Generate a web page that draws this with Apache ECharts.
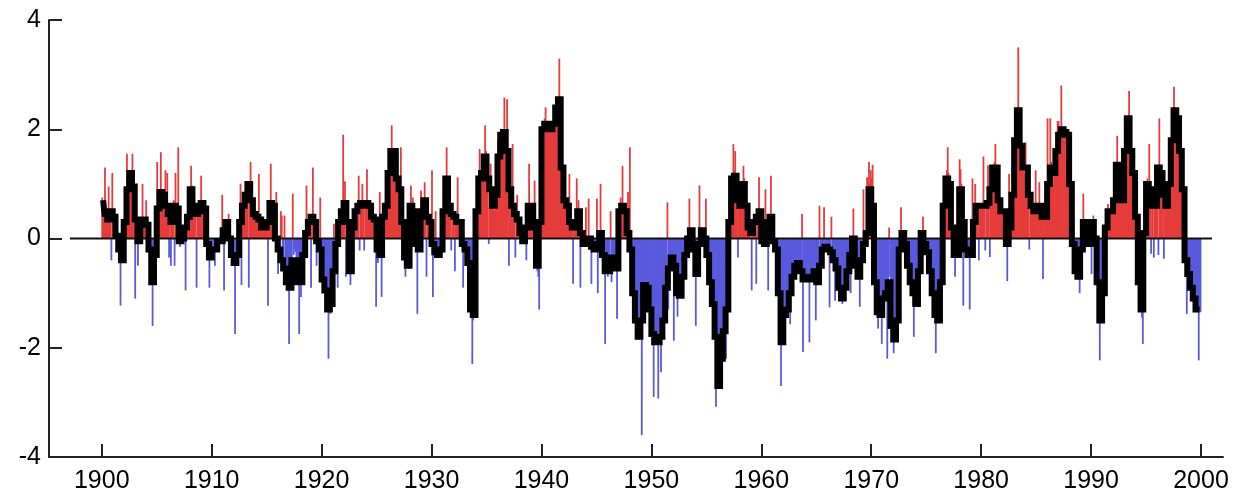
<!DOCTYPE html>
<html>
<head>
<meta charset="utf-8">
<script src="https://cdn.jsdelivr.net/npm/echarts@6/dist/echarts.min.js"></script>
<style>
html,body{margin:0;padding:0;background:#fff;}
#chart{width:1245px;height:495px;}
</style>
</head>
<body>
<div id="chart"></div>
<script>
// Monthly index values, Jan 1900 .. Dec 1999 (one row per year)
const pdoMonthly = [
0.75,0.7,0.55,1.3,0.45,0.4,0.3,0.95,0.45,0.55,-0.4,1.2,
0.5,0.3,0.35,0.1,-0.1,0.05,-0.15,-0.3,-1.23,-0.4,-0.45,-0.3,
0.1,0.3,0.55,1.55,0.9,1.0,1.2,1.25,1.1,1.55,0.9,0.7,
-1.1,0.4,0.3,-0.5,-0.05,0.1,0.3,0.35,1.0,0.3,0.35,0.3,
0.7,0.25,0.1,-0.1,-0.8,-0.4,-0.7,-1.6,-0.85,-0.5,-0.2,0.1,
1.4,0.5,0.6,0.85,1.58,0.8,0.85,0.8,0.75,1.25,0.6,1.2,
0.5,-0.35,0.4,-0.5,0.3,0.6,0.7,-0.5,1.2,0.6,0.5,1.67,
0.0,-0.15,-0.1,0.05,-0.1,0.2,0.15,-0.95,0.25,0.3,0.5,0.8,
0.95,1.33,0.97,0.7,0.6,0.55,0.5,-0.9,0.45,0.5,0.55,0.6,
1.15,0.7,0.65,0.7,0.5,0.3,0.0,-0.2,-0.3,-0.9,-0.4,-0.3,
-0.2,-0.25,-0.15,-0.5,-0.2,-0.1,-0.05,0.0,-0.1,0.05,-0.05,0.8,
0.1,-0.95,0.25,0.3,0.35,0.3,0.45,0.1,-0.1,-0.2,-0.35,-0.4,
-0.45,-1.75,-0.45,-0.4,-0.3,-0.1,0.2,1.0,-0.85,0.55,0.6,0.7,
0.75,0.85,0.9,0.95,-0.9,1.0,1.4,0.9,0.7,0.6,0.5,0.45,
0.45,0.4,0.45,1.18,0.35,0.3,0.2,0.25,0.15,0.2,0.2,0.25,
0.3,-1.23,0.5,0.6,1.37,0.65,0.7,0.6,0.5,0.3,0.85,-0.1,
-0.65,-0.2,-0.2,0.5,0.42,-0.4,-0.45,0.42,-0.55,-0.6,-0.8,-0.9,
-1.93,-0.9,-0.85,-0.8,0.82,-0.3,-0.2,-0.25,-0.4,-0.6,-0.8,-1.75,
-0.85,-1.07,-0.7,-0.5,-0.3,-0.1,0.0,0.97,0.15,0.25,0.3,0.35,
-0.9,0.4,1.3,0.4,0.3,0.2,-0.5,-0.05,-0.1,-0.2,0.75,-0.3,
-0.7,-0.8,-0.85,-0.9,-1.0,-0.95,-1.2,-2.2,-1.35,-1.38,-1.2,-1.0,
-0.8,0.27,-0.4,-0.2,0.0,-0.9,0.25,0.3,0.35,0.45,0.5,1.9,
0.65,1.05,-0.7,0.6,0.4,0.2,-0.6,-0.85,-0.5,0.2,0.4,0.5,
0.5,0.55,0.5,0.6,1.15,-0.22,0.6,0.65,1.0,0.6,-0.22,0.6,
0.6,1.27,0.65,0.6,0.55,0.6,0.45,0.4,0.35,0.4,0.35,-1.25,
-0.3,-0.45,-0.3,0.85,-0.2,-1.07,0.3,0.4,0.5,0.6,0.55,0.65,
1.0,1.25,1.4,1.5,2.07,1.65,1.6,1.55,1.5,1.2,1.1,1.05,
1.0,0.9,1.67,0.5,0.3,0.1,-0.1,-0.7,-0.3,-0.45,-0.55,-0.5,
0.2,0.97,0.6,0.75,0.5,0.2,0.0,-0.1,-1.38,-0.15,-0.1,-0.05,
0.88,0.5,0.6,0.7,1.03,0.7,-0.7,0.4,0.35,0.3,0.3,0.35,
1.25,-1.07,-0.1,-0.2,0.5,-0.3,-0.25,-0.3,-0.35,-0.3,-0.2,-0.1,
0.1,0.5,0.8,1.1,1.67,1.0,0.7,0.6,0.5,-0.22,0.45,0.45,
0.4,-0.6,0.4,0.35,1.12,0.3,0.3,0.3,0.25,0.1,-0.9,-0.1,
-0.2,-0.25,-0.3,-0.4,-0.5,-0.6,-1.0,-1.4,-2.3,-1.5,-1.3,-0.6,
0.3,0.6,0.9,1.1,1.64,1.1,1.15,1.2,1.3,1.45,2.07,1.6,
1.2,1.0,-0.1,0.9,1.37,0.9,0.7,0.6,0.5,0.55,0.7,1.0,
1.8,1.4,1.6,1.8,1.9,2.0,1.95,2.58,1.9,1.7,2.55,1.5,
-0.5,1.1,0.8,0.6,1.73,0.5,0.5,-0.35,0.45,0.8,0.4,0.3,
0.15,0.1,0.0,-0.05,-0.1,0.0,0.1,-0.4,0.5,0.6,1.37,0.65,
0.6,0.55,0.5,0.3,1.06,0.1,-0.3,-0.6,-0.7,-1.3,0.5,1.1,
1.6,2.0,2.1,2.2,2.4,2.1,2.05,2.0,2.0,1.95,2.0,2.05,
2.0,2.1,2.2,2.3,2.4,2.5,2.55,3.29,2.0,1.5,1.0,0.8,
0.8,0.7,0.6,0.6,0.55,0.6,1.18,0.3,0.25,0.2,-0.83,0.2,
0.3,0.3,1.1,0.5,0.7,0.45,-0.9,0.1,0.05,-0.05,-0.1,0.0,
0.57,-0.05,-0.1,0.73,0.0,-0.1,-0.83,-0.15,-0.2,-0.15,-0.2,-0.2,
0.73,-1.0,-0.1,0.1,1.0,0.1,-0.2,-0.3,-0.5,-1.93,-0.6,-0.65,
-0.7,-0.6,-0.5,0.5,-0.8,-0.35,-0.4,-0.45,-0.5,-0.55,-1.47,-0.6,
0.3,0.6,0.75,0.6,1.33,0.55,0.5,0.5,0.45,0.4,0.85,0.1,
1.67,-0.3,-0.5,-0.8,-1.0,-1.1,-1.3,-1.5,-1.6,-1.7,-1.85,-1.8,
-1.7,-3.6,-1.2,-0.85,-0.8,-0.85,-0.9,-1.0,-1.1,-1.3,-1.35,-1.3,
-1.7,-1.8,-2.9,-1.85,-1.9,-1.95,-1.9,-2.93,-1.85,-1.8,-2.45,-1.75,
-1.6,-1.4,-1.2,-1.0,-0.8,0.66,-1.3,-0.6,-0.5,-0.4,-0.35,-0.3,
-1.87,-0.5,-0.8,-1.0,-1.43,-1.05,-1.0,-1.05,-0.9,-0.7,-0.6,-0.5,
-0.4,-0.3,-0.2,-0.1,0.0,0.73,0.2,0.15,0.0,-0.2,-0.3,-0.4,
-1.6,-0.7,-0.5,-0.2,0.97,0.1,0.15,0.2,0.15,0.0,-0.1,0.73,
-0.2,-0.4,-0.6,-0.8,-0.9,-1.0,-1.2,-1.4,-1.6,-1.8,-3.08,-2.2,
-2.7,-2.6,-2.5,-2.4,-2.2,-2.0,-1.8,-2.0,-1.6,-2.2,-1.3,-1.0,
-0.5,0.2,0.6,0.9,1.1,1.73,1.25,1.6,1.1,0.9,-0.35,0.7,
0.6,0.6,0.7,1.0,1.33,1.1,0.8,0.6,0.4,0.25,0.2,0.15,
0.1,-0.95,0.15,0.2,0.3,0.35,-0.83,0.4,0.45,1.12,0.5,0.5,
0.0,-0.1,-0.1,-0.05,0.9,0.2,0.3,-0.95,0.4,0.35,1.15,0.4,
0.0,-0.1,-0.1,-0.15,-0.2,-0.3,-0.6,-1.0,-1.5,-2.7,-1.9,-1.8,
-1.5,-1.4,-1.35,-1.3,-1.3,-1.2,-1.1,-1.57,-0.9,-0.8,-0.7,-0.6,
-0.5,-0.5,-0.45,-0.45,-0.5,-0.55,-0.6,-0.7,0.45,-2.08,-0.75,-0.8,
-0.7,-0.75,-0.8,-0.8,-1.9,-0.75,-0.7,-0.7,-0.65,-0.6,-0.6,-1.5,
-0.8,-0.7,-0.6,0.6,-0.4,-0.25,-0.2,-0.15,0.57,-0.15,-0.1,-0.2,
-0.2,-0.2,-1.26,-0.25,0.4,-0.3,-0.35,-0.4,-1.14,-0.5,-0.6,-0.7,
-0.85,-0.95,-1.05,-1.1,-1.2,-1.1,-1.0,-0.9,-0.8,-0.7,-0.6,-0.5,
-0.4,-1.0,-0.2,-0.05,0.55,0.0,-0.3,-0.5,-0.65,-0.7,-0.75,-1.25,
-0.6,-0.3,-0.2,0.9,-0.1,0.0,0.1,1.12,0.2,1.4,1.0,1.25,
1.1,1.35,0.6,0.2,-0.5,-1.0,-1.3,-1.65,-1.4,-1.35,-1.4,-1.93,
-1.1,-1.0,-1.05,-1.0,-0.9,-2.2,-1.0,0.2,-0.7,-1.5,-1.7,-1.8,
-2.1,-1.85,-1.8,-1.8,-1.7,-1.2,-0.7,-0.2,0.57,0.1,0.15,0.1,
0.0,-0.1,-0.2,-0.3,-0.45,-0.6,-0.7,-0.8,-0.85,-0.95,-1.8,-1.1,
-1.2,-1.25,-1.2,-0.9,-0.6,-0.3,0.0,0.1,0.4,0.15,-0.1,-0.2,
-0.2,-0.25,-0.3,-0.5,-0.6,-0.7,-0.9,-1.0,-1.2,-1.3,-2.1,-1.45,
-1.55,-1.5,-1.4,-1.2,-0.6,0.0,0.5,0.9,1.0,1.1,1.25,1.67,
1.2,1.0,0.6,0.4,0.2,0.1,-0.1,-0.7,-0.3,-0.35,-0.3,0.0,
1.45,1.27,1.0,0.6,-1.23,0.2,-0.1,-0.2,-0.3,-0.35,-0.3,-1.3,
-0.3,-0.2,1.1,0.2,0.4,1.0,0.55,0.6,0.65,-0.4,0.6,0.65,
0.6,0.55,1.5,0.6,-0.22,0.6,0.65,1.34,0.7,-0.34,0.9,1.1,
1.2,1.35,1.4,1.73,1.3,1.1,0.8,0.7,0.6,0.5,0.55,0.5,
0.5,0.45,0.3,0.0,-0.78,-0.1,1.18,0.2,0.4,0.6,0.8,1.1,
1.5,1.9,2.1,2.37,3.5,2.3,2.0,1.8,1.6,1.4,1.3,1.2,
1.76,1.3,1.2,1.0,-0.2,0.8,0.7,0.6,0.6,0.55,0.5,1.25,
0.6,0.55,0.6,1.03,0.6,0.55,0.45,-0.74,0.4,0.4,0.35,0.45,
2.2,0.8,1.0,2.2,1.4,1.2,1.0,1.2,1.4,1.5,1.8,2.15,
2.15,1.9,1.95,2.8,2.0,1.95,2.0,1.9,1.95,1.9,1.85,1.7,
1.4,1.0,0.7,0.3,-0.1,-0.3,-0.5,-0.6,-0.7,-0.7,-0.75,-1.0,
-0.5,-0.2,0.1,0.82,0.3,0.3,0.1,-0.05,-0.1,-0.1,-0.05,0.0,
-0.65,0.3,0.42,0.2,0.0,-0.2,-0.5,-0.9,-1.3,-2.23,-1.55,-1.5,
-1.4,-1.0,-0.6,-0.2,0.1,0.3,0.63,0.5,0.5,0.45,0.5,0.55,
0.6,0.8,1.1,1.35,1.88,1.3,1.0,0.8,0.75,0.7,0.7,0.9,
1.3,1.7,2.0,2.2,2.1,2.7,1.9,1.6,1.5,1.4,1.2,1.0,
0.8,1.2,0.4,-0.3,-0.6,-0.9,-1.2,-1.45,-1.93,-1.3,-0.5,0.4,
0.9,1.1,1.0,1.73,0.9,-0.28,0.8,0.6,-0.35,0.55,0.6,0.7,
1.2,-0.3,2.2,1.3,1.2,1.1,0.9,-0.37,0.8,0.7,0.6,0.8,
0.9,1.0,1.3,1.6,1.9,2.2,2.78,2.4,2.3,2.2,2.3,2.1,
1.9,1.6,1.5,1.2,0.8,0.2,-0.3,-0.5,-1.38,-0.6,-0.7,-0.75,
-0.8,-0.9,-0.95,-1.0,-1.1,-1.15,-1.2,-1.3,-1.25,-2.23,-1.3,-1.35
];

// Smoothed index (black line), quarterly, 1900 Q1 .. 1999 Q4
const pdoSmooth = [
0.7,0.45,0.35,0.5, 0.4,0.05,-0.2,-0.4, 0.3,0.9,1.2,0.95, 0.35,-0.05,0.3,0.35, 0.25,-0.2,-0.8,-0.3,
0.55,0.85,0.8,0.6, 0.45,0.3,0.6,0.55, -0.05,0.0,0.2,0.4, 0.9,0.6,0.45,0.5, 0.65,0.55,-0.1,-0.35,
-0.2,-0.2,-0.05,-0.05, 0.15,0.3,0.0,-0.3, -0.45,-0.3,0.3,0.6, 0.8,1.0,0.7,0.45, 0.4,0.35,0.2,0.2,
0.3,0.65,0.6,0.0, -0.2,-0.4,-0.55,-0.8, -0.9,-0.4,-0.4,-0.8, -0.8,-0.3,0.1,0.3, 0.4,0.3,-0.05,-0.2,
-0.75,-0.95,-1.3,-1.2, -0.6,-0.1,0.3,0.5, 0.65,0.3,-0.6,0.2, 0.5,0.6,0.65,0.6, 0.65,0.6,0.4,0.35,
-0.2,-0.3,0.4,0.6, 1.2,1.6,1.6,1.1, 0.9,0.3,-0.35,-0.5, 0.6,0.5,-0.1,-0.2, 0.5,0.7,0.4,0.3,
-0.1,-0.25,-0.3,-0.2, 0.5,1.1,0.6,0.45, 0.4,0.3,0.3,-0.1, -0.2,-0.45,-1.3,-1.4, 0.5,1.1,1.2,1.5,
1.1,0.9,0.6,0.8, 1.5,1.9,1.95,1.6, 0.9,0.6,0.45,0.35, 0.1,-0.05,0.2,0.6, 0.6,0.2,-0.5,0.3,
2.0,2.1,2.05,2.0, 2.1,2.4,2.55,1.3, 0.7,0.6,0.3,0.2, 0.3,0.5,0.1,-0.1, -0.05,0.0,-0.15,-0.2,
-0.1,0.1,-0.3,-0.6, -0.6,-0.35,-0.45,-0.55, 0.5,0.6,0.5,0.1, -0.2,-1.0,-1.5,-1.8, -1.5,-0.85,-0.9,-1.3,
-1.75,-1.9,-1.9,-1.8, -1.5,-0.9,-0.55,-0.35, -0.5,-1.0,-1.05,-0.7, -0.3,0.0,0.15,-0.2, -0.65,-0.1,0.15,0.0,
-0.3,-0.8,-1.2,-1.8, -2.7,-2.2,-1.7,-1.3, 0.3,1.1,1.15,0.7, 0.6,1.0,0.6,0.2, 0.1,0.3,0.4,0.5,
-0.05,-0.1,0.3,0.4, -0.05,-0.2,-1.0,-1.9, -1.4,-1.3,-1.0,-0.7, -0.5,-0.45,-0.6,-0.75, -0.7,-0.75,-0.7,-0.6,
-0.8,-0.5,-0.2,-0.15, -0.2,-0.25,-0.4,-0.55, -0.9,-1.1,-0.9,-0.6, -0.3,0.0,-0.5,-0.7, -0.4,-0.1,0.1,0.9,
0.6,-0.8,-1.35,-1.4, -1.1,-1.0,-0.8,-1.6, -1.85,-1.5,-0.2,0.1, -0.1,-0.5,-0.8,-1.0, -1.2,-0.6,0.1,-0.1,
-0.25,-0.6,-1.0,-1.4, -1.5,-0.8,0.6,1.1, 1.0,0.2,-0.3,-0.3, 0.9,0.3,-0.2,-0.3, -0.3,0.3,0.6,0.6,
0.6,0.6,0.65,0.9, 1.3,1.3,0.7,0.5, 0.5,-0.1,0.2,0.8, 1.8,2.35,1.7,1.3, 1.3,0.8,0.6,0.5,
0.6,0.6,0.4,0.4, 1.0,1.3,1.2,1.6, 1.9,2.0,1.95,1.9, 1.0,-0.1,-0.6,-0.7, -0.2,0.3,0.0,-0.1,
0.3,0.0,-0.8,-1.5, -1.0,0.2,0.5,0.5, 0.7,1.35,0.8,0.7, 1.6,2.2,1.6,1.2, 0.4,-0.8,-1.3,0.1,
1.0,0.9,0.6,0.6, 1.3,1.2,0.8,0.6, 1.0,1.8,2.35,2.2, 1.6,0.9,-0.4,-0.65, -0.9,-1.1,-1.3,-1.3
];

const startYear = 1900;
const xTickValues = [1900,1910,1920,1930,1940,1950,1960,1970,1980,1990,2000];
const zeroLine = [[1897.1,0],[2001.0,0]];

const barData = pdoMonthly.map((v,i)=>[startYear + (i+0.5)/12, v]);
const lineData = pdoSmooth.map((v,i)=>[startYear + (i+0.5)/4, v]);

const chart = echarts.init(document.getElementById('chart'), null, {renderer:'canvas'});
chart.setOption({
  animation:false,
  backgroundColor:'#fff',
  grid:{left:49,right:22,top:20,bottom:38},
  xAxis:{
    type:'value',min:1895.2,max:2002,
    axisLine:{show:true,onZero:false,lineStyle:{color:'#222',width:2}},
    axisTick:{show:true,inside:true,length:13,lineStyle:{color:'#222',width:2},customValues:xTickValues},
    axisLabel:{show:true,customValues:xTickValues,formatter:function(v){return String(v);},fontFamily:'Liberation Sans',fontSize:25,color:'#000',margin:12},
    splitLine:{show:false}
  },
  yAxis:{
    type:'value',min:-4,max:4,interval:2,
    axisLine:{show:true,onZero:false,lineStyle:{color:'#222',width:2}},
    axisTick:{show:true,inside:true,length:13,lineStyle:{color:'#222',width:2}},
    axisLabel:{fontFamily:'Liberation Sans',fontSize:25,color:'#000',margin:8,formatter:function(v){return String(v);}},
    splitLine:{show:false}
  },
  series:[
    {
      type:'bar',data:barData,barWidth:1.8,
      itemStyle:{color:function(p){return p.value[1]>=0?'#e63c3c':'#5a5ade';}},
      emphasis:{disabled:true},z:1
    },
    {
      type:'line',data:zeroLine,symbol:'none',lineStyle:{color:'#111',width:2},z:3,silent:true
    },
    {
      type:'line',data:lineData,symbol:'none',step:'middle',lineStyle:{color:'#000',width:6,join:'miter'},z:5,silent:true
    }
  ]
});
</script>
</body>
</html>
